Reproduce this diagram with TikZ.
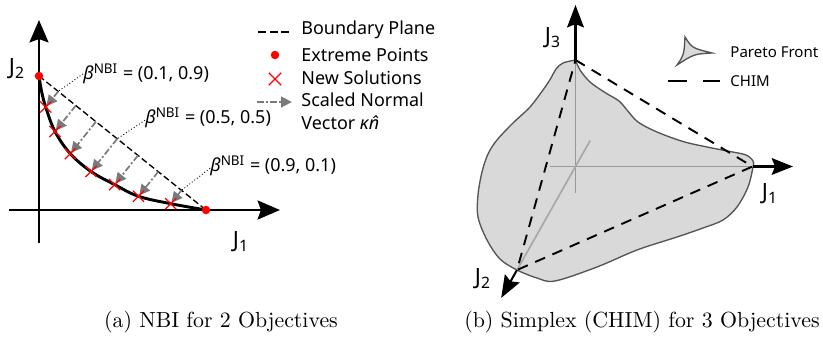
\documentclass[tikz,border=0pt]{standalone}
\usepackage{fontspec}
\newfontfamily\figfont{Noto Sans}
\usepackage{tikz}
\usetikzlibrary{arrows.meta,positioning,calc,shapes.misc}
\definecolor{vecGray}{HTML}{7A7A7A}
\definecolor{axGray}{HTML}{999999}
\definecolor{frontFill}{HTML}{D9D9D9}
\definecolor{frontLine}{HTML}{555555}

\tikzset{
  axis/.style={-{Stealth[length=10pt,width=8.5pt,inset=1.5pt]},line width=0.9pt},
  inaxis/.style={axGray,line width=0.75pt},
  bplane/.style={dash pattern=on 2.8pt off 1.4pt,line width=0.6pt},
  chim/.style={dash pattern=on 4.8pt off 3.6pt,line width=0.85pt},
  normvec/.style={vecGray,line width=0.75pt,dash pattern=on 3pt off 1pt on 0.9pt off 1pt,
    -{Triangle[length=4.8pt,width=4.8pt]},shorten >=0.5pt},
  expt/.style={circle,fill=red,inner sep=0pt,minimum size=3.8pt},
  newsol/.style={cross out,draw=red,line width=0.55pt,inner sep=0pt,minimum size=4.4pt},
  leader/.style={densely dotted,line width=0.4pt},
  lbl/.style={font=\figfont\fontsize{8}{10.3}\selectfont,inner sep=0pt},
  smalllbl/.style={font=\figfont\fontsize{6.7}{8}\selectfont,inner sep=0pt},
  jlbl/.style={font=\figfont\fontsize{10}{12}\selectfont,inner sep=0pt},
  front/.style={fill=frontFill,draw=frontLine,line width=0.6pt},
  capt/.style={font=\fontsize{9.75}{12}\selectfont,inner sep=0pt}
}

\begin{document}
\begin{tikzpicture}[x=0.446pt,y=-0.446pt]
  \useasboundingbox (0,0) rectangle (823,337);

  % (a) NBI, two objectives
  \coordinate (e1) at (39,76);
  \coordinate (e2) at (206,210);
  \draw[axis] (39,243) -- (39,20);
  \draw[axis] (9,210) -- (280,210);
  \node[jlbl] (j2a) at (17,69) {J\textsubscript{2}};
  \node[jlbl] (j1a) at (241,242) {J\textsubscript{1}};

  \draw[bplane] (e1) -- (e2);
  \draw[line width=1.3pt] plot[smooth,tension=0.6] coordinates {(39,76) (41.5,91) (45.7,107)
    (55,131.5) (70.3,153.7) (91,171.5) (114.6,184.6) (138.5,196.3) (170.8,203.7) (206,210)};

  \coordinate (s1) at (45.7,107);
  \coordinate (s2) at (55,131.5);
  \coordinate (s3) at (70.3,153.7);
  \coordinate (s4) at (91,171.5);
  \coordinate (s5) at (114.6,184.6);
  \coordinate (s6) at (138.5,196.3);
  \coordinate (s7) at (170.8,203.7);
  \foreach \i in {1,...,7} {
    \coordinate (f\i) at ($(e1)!(s\i)!(e2)$);
    \draw[normvec] (f\i) -- (s\i);
    \node[newsol] (x\i) at (s\i) {};
  }
  \node[expt] (p1) at (e1) {};
  \node[expt] (p2) at (e2) {};

  % beta labels
  \node[lbl,anchor=west] (b1) at (83,74) {\textit{β}\textsuperscript{NBI} = (0.1, 0.9)};
  \node[lbl,anchor=west] (b2) at (145,118) {\textit{β}\textsuperscript{NBI} = (0.5, 0.5)};
  \node[lbl,anchor=west] (b3) at (210,166) {\textit{β}\textsuperscript{NBI} = (0.9, 0.1)};
  \draw[leader] (b1.west) -- (f1);
  \draw[leader] ([yshift=-1pt]b2.west) -- (f4);
  \draw[leader] ([yshift=-1pt]b3.west) -- (f7);

  % legend
  \node[lbl,anchor=west] (lgbp) at (301,30) {Boundary Plane};
  \node[lbl,anchor=west] (lgep) at (301,55) {Extreme Points};
  \node[lbl,anchor=west] (lgns) at (301,78) {New Solutions};
  \node[lbl,anchor=north west,align=left] (lgnv) at (301,92) {Scaled Normal\\Vector \textit{κ\^{n}}};
  \draw[bplane,line width=0.7pt,dash pattern=on 3.6pt off 1.6pt] ($(lgbp.west)+(-43,2)$) -- ($(lgbp.west)+(-10,2)$);
  \node[expt] (lgdot) at ($(lgep.west)+(-26,0)$) {};
  \node[newsol,minimum size=5pt] (lgx) at ($(lgns.west)+(-26,1)$) {};
  \draw[normvec] ($(lgnv.north west)+(-44,10)$) -- ($(lgnv.north west)+(-8,10)$);

  % (b) simplex, three objectives
  \coordinate (o) at (575.5,166.5);
  \coordinate (c3) at (575.5,60);
  \coordinate (c1) at (752.5,166.5);
  \coordinate (c2) at (517,270);
  \draw[front] plot[smooth,tension=0.55] coordinates {(575.5,60) (563,63) (556,69) (551,78)
    (543,90) (530,107) (513,123) (497,140) (488,154) (482,172) (478,195) (478,217) (487,240)
    (500,259) (517,270) (537,278) (555,281) (597,267) (637,250) (677,237) (703,228) (723,220)
    (737,207) (748,187) (753,167) (753,161) (746,155) (730,151.5) (707,147) (683,141.5)
    (657,132) (638,122) (627,110) (619,101) (605,92.5) (590,82) (580,70) (575.5,60)} -- cycle;

  \draw[inaxis] (575.5,193) -- (c3);
  \draw[inaxis] (550,166.5) -- (c1);
  \draw[inaxis,axGray!85] ($(o)!-0.25!(c2)$) -- (c2);
  \draw[chim] (c3) -- (c1) -- (c2) -- cycle;
  \draw[axis,-{Stealth[length=10pt,width=7.5pt,inset=1.5pt]}] (c3) -- (575.5,5);
  \draw[axis,-{Stealth[length=9.5pt,width=7.5pt,inset=1.5pt]}] (c1) -- (793,166.5);
  \draw[axis,-{Stealth[length=10pt,width=7.5pt,inset=1.5pt]}] (c2) -- ($(o)!1.27!(c2)$);
  \node[jlbl] (j3b) at (553,38) {J\textsubscript{3}};
  \node[jlbl] (j1b) at (770,194) {J\textsubscript{1}};
  \node[jlbl] (j2b) at (483,279) {J\textsubscript{2}};

  % legend
  \draw[front] (685,37) .. controls (692,48) .. (712,53) .. controls (694,54) .. (677,65)
    .. controls (684,55) .. cycle;
  \node[smalllbl,anchor=west] (lgpf) at (730,52) {Pareto Front};
  \node[smalllbl,anchor=west] (lgch) at (730,81) {CHIM};
  \draw[chim,dash pattern=on 8.5pt off 7pt] ($(lgch.west)+(-62,0)$) -- ($(lgch.west)+(-10,0)$);

  % captions
  \node[capt,anchor=base] (capa) at (221,327) {(a) NBI for 2 Objectives};
  \node[capt,anchor=base] (capb) at (642,327) {(b) Simplex (CHIM) for 3 Objectives};
\end{tikzpicture}
\end{document}
